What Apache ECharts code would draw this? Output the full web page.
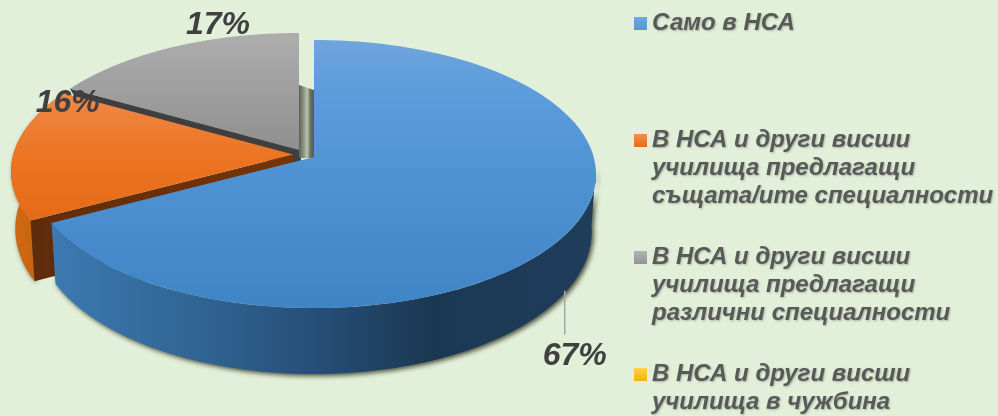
<!DOCTYPE html>
<html><head><meta charset="utf-8">
<script src="https://cdn.jsdelivr.net/npm/echarts@6/dist/echarts.min.js"></script>
<style>html,body{margin:0;padding:0;background:#e2f0d9}#c{width:998px;height:416px}</style>
</head><body><div id="c"></div>
<script>
const categories = [
  'Само в НСА',
  'В НСА и други висши\nучилища предлагащи\nсъщата/ите специалности',
  'В НСА и други висши\nучилища предлагащи\nразлични специалности',
  'В НСА и други висши\nучилища в чужбина'
];
const values = [67.2, 16, 16.8, 0];
const percentLabels = ['67%', '16%', '17%', '0%'];

// pie geometry (perspective projection of a disc)
const K = 0.1268, A = 131.9, B = 279.7;
const apexes = [[314, 157], [293, 154.5], [299, 150]];
const labelShift = [[8, 65], [54, -50], [46, -22]];
const G = (x0, y0, x1, y1, stops) => new echarts.graphic.LinearGradient(x0, y0, x1, y1,
  stops.map((c, i) => ({offset: Array.isArray(c) ? c[0] : i / (stops.length - 1), color: Array.isArray(c) ? c[1] : c})), true);

function topPt(t, ap) {
  const u = Math.sin(t), v = -Math.cos(t), d = 1 - K * v;
  return [ap[0] + B * u / d, ap[1] + A * v / d];
}
function botPt(t, ap) {
  const u = Math.sin(t), v = -Math.cos(t), d = 1 - K * v;
  return [ap[0] + 0.985 * B * u / d, ap[1] + A * v / d + 56 + 10 * v];
}
function arc(fn, t0, t1, ap) {
  const pts = [], n = 120;
  for (let i = 0; i <= n; i++) pts.push(fn(t0 + (t1 - t0) * i / n, ap));
  return pts;
}
const total = values.reduce((a, b) => a + b, 0);
function angles(i) {
  let s = 0;
  for (let j = 0; j < i; j++) s += values[j];
  return [s / total * 2 * Math.PI, (s + values[i]) / total * 2 * Math.PI];
}
const wallShadow = {shadowColor: 'rgba(45,48,30,0.85)', shadowBlur: 5, shadowOffsetX: 2, shadowOffsetY: 2};
const topStyle = [
  G(0, 40, 0, 308, [[0, '#70a5dd'], [0.15, '#5f9edd'], [0.5, '#4f93d5'], [1, '#3f84c5']]),
  G(0, 85, 0, 225, [[0, '#f08c4e'], [0.5, '#ec7423'], [1, '#e56a16']]),
  G(0, 33, 0, 150, ['#aeaeae', '#8f8f8f'])
];
const textStyle = {fontFamily: '"Liberation Sans"', fontWeight: 'bold', fontStyle: 'italic', fontSize: 32, fill: '#404040', textAlign: 'center', textVerticalAlign: 'middle'};

function renderSlice(i) {
  return function (params, api) {
    const v = api.value(0);
    if (!v) return {type: 'group', children: []};
    const [t0, t1] = angles(i), ap = apexes[i], children = [];
    const tm = (t0 + t1) / 2;
    if (i === 0) {
      const tWall = 95 * Math.PI / 180;
      const wall = arc(topPt, tWall, t1, ap).concat(arc(botPt, tWall, t1, ap).reverse());
      children.push({type: 'polygon', shape: {points: wall}, style: Object.assign({
        fill: G(50, 0, 596, 0, [[0, '#3d7ab2'], [0.3, '#2f628f'], [0.47, '#27507a'], [0.7, '#1b3853'], [1, '#1f3e5c']])
      }, wallShadow)});
    }
    if (i === 1) {
      const tEnd = 300 * Math.PI / 180;
      const wall = arc(topPt, t0, tEnd, ap).concat(arc(botPt, t0, tEnd, ap).reverse());
      children.push({type: 'polygon', shape: {points: wall}, style: Object.assign({
        fill: G(12, 0, 36, 0, ['#cf6a14', '#c8640f'])}, wallShadow)});
      const c0 = topPt(t0, ap), c1 = botPt(t0, ap);
      const inner = [[ap[0], ap[1]], c0, c1, [ap[0], ap[1] + 60]];
      children.push({type: 'polygon', shape: {points: inner}, style: {fill: G(30, 0, 295, 0, ['#5f2c0b', '#773508'])}});
    }
    if (i === 2) {
      const c0 = topPt(t0, ap);
      children.push({type: 'polygon', shape: {points: [[ap[0] + 2, ap[1] - 1], c0, [c0[0] + 6, c0[1] + 10], [ap[0] - 2, ap[1] + 20], [ap[0] + 2, ap[1] + 20]]}, style: {fill: '#3f3f3f'}});
      children.push({type: 'polygon', shape: {points: [[ap[0], ap[1] - 65], [ap[0] + 15, ap[1] - 60], [ap[0] + 15, ap[1] + 8], [ap[0], ap[1] + 8]]},
        style: {fill: G(ap[0], 0, ap[0] + 15, 0, [[0, '#596052'], [0.3, '#8d9384'], [0.55, '#b9c2ad'], [0.75, '#6b7263'], [1, '#565c4d']])}});
    }
    const top = [[ap[0], ap[1]]].concat(arc(topPt, t0, t1, ap));
    children.push({type: 'polygon', shape: {points: top}, style: {fill: topStyle[i]}});
    if (i === 0) {
      const p = botPt(tm, ap);
      children.push({type: 'line', shape: {x1: p[0] - 2, y1: p[1], x2: p[0] - 2, y2: p[1] + 44}, style: {stroke: '#a6a6a6', lineWidth: 1.5}});
    }
    const lp = i === 0 ? botPt(tm, ap) : topPt(tm, ap);
    children.push({type: 'text', z2: 50, style: Object.assign({text: percentLabels[i], x: lp[0] + labelShift[i][0], y: lp[1] + labelShift[i][1]}, textStyle)});
    return {type: 'group', children};
  };
}

const legendColors = [
  ['#71a7e0', '#5596d8'], ['#f58e52', '#e96a14'], ['#b2b2b2', '#959595'], ['#ffd24f', '#f0b400']
];
const legendIconY = [22.5, 139.5, 256.5, 373.5];
const LINE = 27.8;
function padded(name) {
  const n = name.split('\n').length;
  return '\n\n' + name + '\n'.repeat(3 - n);
}
const chart = echarts.init(document.getElementById('c'), null, {renderer: 'canvas'});
const order = [2, 1, 0, 3];
chart.setOption({
  animation: false,
  backgroundColor: '#e2f0d9',
  legend: categories.map((name, i) => ({
    data: [{name, itemStyle: {color: new echarts.graphic.LinearGradient(0, 0, 0, 1, [{offset: 0, color: legendColors[i][0]}, {offset: 1, color: legendColors[i][1]}])}}],
    selectedMode: false, orient: 'vertical', left: 634, top: legendIconY[i] - LINE * 2.5 + 1,
    padding: 0, itemWidth: 13, itemHeight: 13, itemGap: 0, icon: 'rect',
    formatter: padded,
    textStyle: {fontFamily: '"Liberation Sans"', fontWeight: 'bold', fontStyle: 'italic', fontSize: 24, lineHeight: LINE, color: '#595959', padding: [0, 0, 0, 0],
      textShadowColor: 'rgba(0,0,0,0.25)', textShadowBlur: 2, textShadowOffsetX: 1, textShadowOffsetY: 1}
  })),
  series: order.map(i => ({
    type: 'custom', name: categories[i], coordinateSystem: 'none', silent: true,
    data: [[values[i]]], renderItem: renderSlice(i)
  }))
});
</script></body></html>
